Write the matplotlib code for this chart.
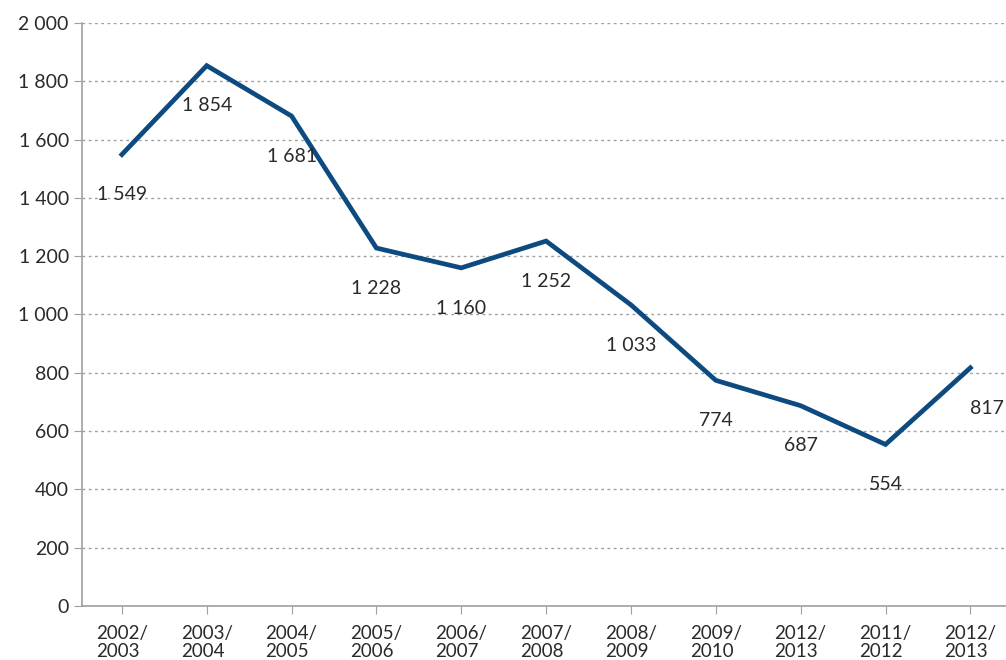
import matplotlib
matplotlib.use("Agg")
import matplotlib.pyplot as plt
from matplotlib.ticker import FuncFormatter

# seasons and counts
seasons = ["2002/\n2003", "2003/\n2004", "2004/\n2005", "2005/\n2006", "2006/\n2007",
           "2007/\n2008", "2008/\n2009", "2009/\n2010", "2012/\n2013", "2011/\n2012",
           "2012/\n2013"]
values = [1549, 1854, 1681, 1228, 1160, 1252, 1033, 774, 687, 554, 817]
yticks = [0, 200, 400, 600, 800, 1000, 1200, 1400, 1600, 1800, 2000]

plt.rcParams['font.family'] = ['Lato', 'DejaVu Sans']

def fmt(v, pos=None):
    return "{:,}".format(int(v)).replace(",", " ")

fig = plt.figure(figsize=(10.06, 6.6), dpi=100)
ax = fig.add_axes([0.0815, 0.082, 0.9185, 0.883])

x = range(len(values))
ax.plot(x, values, color="#0c4a80", lw=3.4, solid_joinstyle="miter", clip_on=False, zorder=3)

for i, v in zip(x, values):
    dx = 12 if i == len(values) - 1 else 0
    ax.annotate(fmt(v), (i, v), xytext=(dx, -29), textcoords="offset points",
                ha="center", va="center", fontsize=14, color="#2a2a2a")

ax.set_xlim(-0.47, 10.42)
ax.set_ylim(0, 2000)
ax.set_yticks(yticks)
ax.yaxis.set_major_formatter(FuncFormatter(fmt))
ax.set_xticks(list(x))
ax.set_xticklabels(seasons, multialignment="left", fontsize=13.5, linespacing=1.05)
ax.tick_params(axis="y", labelsize=14, length=6, color="#a0a0a0", labelcolor="#2a2a2a")
ax.tick_params(axis="x", length=6, color="#a0a0a0", labelcolor="#2a2a2a", pad=8)

ax.grid(axis="y", linestyle=(0, (2, 2.5)), color="#a0a0a0", lw=1)
ax.set_axisbelow(True)
for s in ["top", "right"]:
    ax.spines[s].set_visible(False)
for s in ["left", "bottom"]:
    ax.spines[s].set_color("#a0a0a0")
    ax.spines[s].set_linewidth(1.2)

fig.savefig("out.png", dpi=100)
